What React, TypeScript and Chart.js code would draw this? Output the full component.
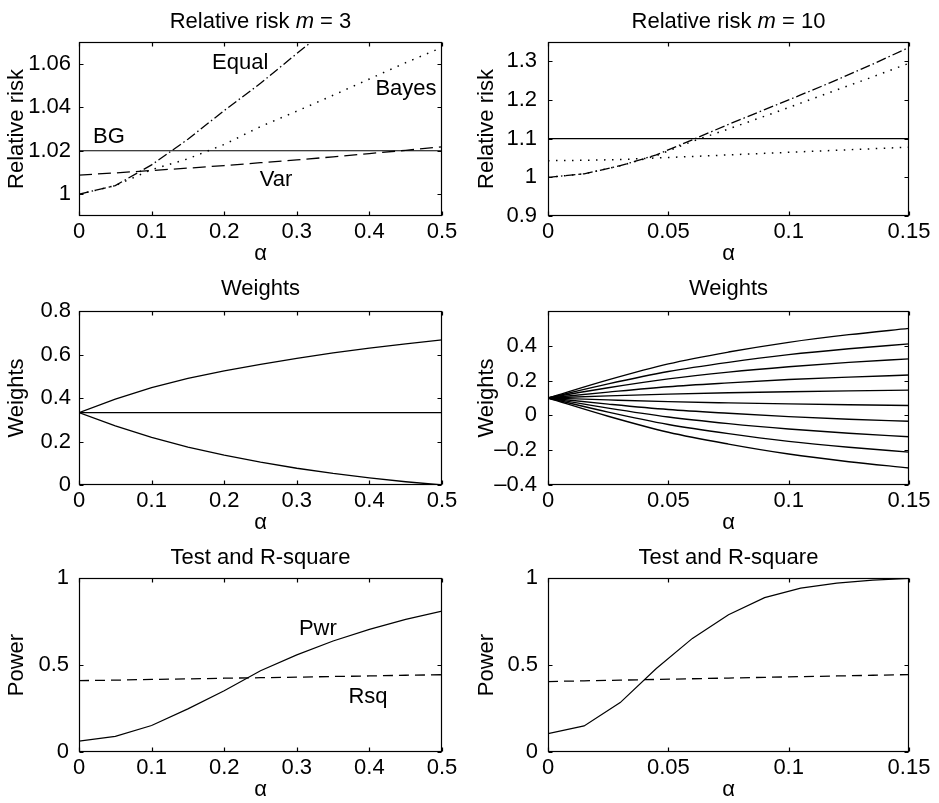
import React, { useEffect, useRef } from "react"
import { Chart, registerables } from "chart.js"

Chart.register(...registerables)

const FONT = "'Liberation Sans', Arial, Helvetica, sans-serif"
const FONT_SIZE = 22
const PANEL_H = 267

// alpha grids
const alphaWide = [0, 0.05, 0.1, 0.15, 0.2, 0.25, 0.3, 0.35, 0.4, 0.45, 0.5]
const alphaNarrow = [0, 0.015, 0.03, 0.045, 0.06, 0.075, 0.09, 0.105, 0.12, 0.135, 0.15]
const alphaFan = [0, 0.025, 0.05, 0.075, 0.1, 0.125, 0.15]

// tick values
const ticksWide = [0, 0.1, 0.2, 0.3, 0.4, 0.5]
const ticksNarrow = [0, 0.05, 0.1, 0.15]
const ticksRR3 = [1, 1.02, 1.04, 1.06]
const ticksRR10 = [0.9, 1, 1.1, 1.2, 1.3]
const ticksW3 = [0, 0.2, 0.4, 0.6, 0.8]
const ticksW10 = [-0.4, -0.2, 0, 0.2, 0.4]
const ticksPower = [0, 0.5, 1]

// relative risk, m = 3
const rr3Equal = [1.0, 1.004, 1.0135, 1.0253, 1.0385, 1.051, 1.0647, 1.078, 1.092, 1.106, 1.12]
const rr3Bayes = [1.0, 1.004, 1.0113, 1.0163, 1.0229, 1.0311, 1.0382, 1.0455, 1.053, 1.0605, 1.0675]
const rr3Var = [1.0088, 1.0098, 1.0109, 1.012, 1.0132, 1.0145, 1.0158, 1.0172, 1.0187, 1.0202, 1.0218]
const rr3BG = [1.02, 1.02, 1.02, 1.02, 1.02, 1.02, 1.02, 1.02, 1.02, 1.02, 1.02]

// relative risk, m = 10
const rr10Equal = [1.0, 1.009, 1.03, 1.058, 1.097, 1.137, 1.175, 1.213, 1.252, 1.293, 1.336]
const rr10Bayes = [1.0, 1.009, 1.03, 1.056, 1.093, 1.125, 1.158, 1.192, 1.226, 1.26, 1.295]
const rr10Var = [1.043, 1.044, 1.046, 1.05, 1.054, 1.058, 1.062, 1.066, 1.07, 1.074, 1.078]
const rr10BG = [1.1, 1.1, 1.1, 1.1, 1.1, 1.1, 1.1, 1.1, 1.1, 1.1, 1.1]

// weights, m = 3
const w3Up = [0.333, 0.395, 0.448, 0.49, 0.525, 0.555, 0.582, 0.607, 0.629, 0.649, 0.667]
const w3Mid = [0.333, 0.333, 0.333, 0.333, 0.333, 0.333, 0.333, 0.333, 0.333, 0.333, 0.333]
const w3Low = [0.333, 0.272, 0.219, 0.174, 0.137, 0.105, 0.077, 0.053, 0.033, 0.015, 0.0]

// weights, m = 10
const w10 = [
  [0.1, 0.204, 0.296, 0.364, 0.42, 0.464, 0.5],
  [0.1, 0.181, 0.252, 0.305, 0.349, 0.383, 0.411],
  [0.1, 0.159, 0.21, 0.249, 0.28, 0.305, 0.325],
  [0.1, 0.134, 0.165, 0.187, 0.206, 0.22, 0.232],
  [0.1, 0.112, 0.122, 0.13, 0.136, 0.141, 0.145],
  [0.1, 0.089, 0.079, 0.072, 0.066, 0.061, 0.057],
  [0.1, 0.065, 0.034, 0.012, -0.007, -0.022, -0.034],
  [0.1, 0.042, -0.009, -0.047, -0.078, -0.103, -0.123],
  [0.1, 0.019, -0.052, -0.105, -0.149, -0.183, -0.211],
  [0.1, -0.005, -0.097, -0.165, -0.222, -0.266, -0.302],
]

// test power and R-square
const pwr3 = [0.063, 0.09, 0.152, 0.248, 0.352, 0.467, 0.558, 0.638, 0.705, 0.762, 0.81]
const rsq3 = [0.41, 0.413, 0.417, 0.42, 0.424, 0.427, 0.43, 0.434, 0.437, 0.441, 0.444]
const pwr10 = [0.106, 0.15, 0.284, 0.48, 0.653, 0.789, 0.887, 0.942, 0.971, 0.988, 0.997]
const rsq10 = [0.405, 0.409, 0.413, 0.417, 0.421, 0.425, 0.429, 0.433, 0.437, 0.441, 0.445]

// curve labels
const rr3Notes = [
  { text: "Equal", x: 0.222, y: 1.0605 },
  { text: "Bayes", x: 0.4504, y: 1.0482 },
  { text: "BG", x: 0.0413, y: 1.0265 },
  { text: "Var", x: 0.2713, y: 1.0068 },
]
const p3Notes = [
  { text: "Pwr", x: 0.329, y: 0.708 },
  { text: "Rsq", x: 0.398, y: 0.318 },
]

const DASH_DOT = [10, 3, 1.5, 3]
const DASHED = [13, 6]
const DOTTED = [1.5, 6.5]
const SHORT_DASH = [10, 6]

type Line = { data: number[]; dash?: number[]; width?: number }
type Note = { text: string; x: number; y: number }
type TitlePart = { text: string; italic?: boolean }
type PanelSpec = {
  left: number
  top: number
  width: number
  title: TitlePart[]
  titleGap: number
  yLabel: string
  xs: number[]
  lines: Line[]
  xMax: number
  yMin: number
  yMax: number
  xTicks: number[]
  yTicks: number[]
  yAxisWidth: number
  yTickPad: number
  rightPad: number
  notes?: Note[]
  smooth?: boolean
}

const fmt = (v: number) => String(v).replace("-", "\u2013")

function framePlugin(spec: PanelSpec) {
  return {
    id: "matlabFrame",
    afterDraw(chart: Chart) {
      const { ctx, chartArea: a } = chart
      const sx = chart.scales.x
      const sy = chart.scales.y
      const L = Math.round(a.left) + 0.5
      const R = Math.round(a.right) - 0.5
      const T = Math.round(a.top) + 0.5
      const B = Math.round(a.bottom) - 0.5
      ctx.save()
      ctx.strokeStyle = "#000"
      ctx.lineWidth = 1.2
      ctx.strokeRect(L, T, R - L, B - T)
      const tl = 4
      ctx.beginPath()
      for (const v of spec.xTicks) {
        const px = Math.round(sx.getPixelForValue(v)) + 0.5
        ctx.moveTo(px, B)
        ctx.lineTo(px, B - tl)
        ctx.moveTo(px, T)
        ctx.lineTo(px, T + tl)
      }
      for (const v of spec.yTicks) {
        const py = Math.round(sy.getPixelForValue(v)) + 0.5
        ctx.moveTo(L, py)
        ctx.lineTo(L + tl, py)
        ctx.moveTo(R, py)
        ctx.lineTo(R - tl, py)
      }
      ctx.stroke()

      // title with mixed styles
      ctx.fillStyle = "#000"
      ctx.textBaseline = "alphabetic"
      ctx.textAlign = "left"
      const fontOf = (p: TitlePart) => `${p.italic ? "italic " : ""}${FONT_SIZE}px ${FONT}`
      let total = 0
      for (const p of spec.title) {
        ctx.font = fontOf(p)
        total += ctx.measureText(p.text).width
      }
      let x = (a.left + a.right) / 2 - total / 2
      const y = a.top - spec.titleGap
      for (const p of spec.title) {
        ctx.font = fontOf(p)
        ctx.fillText(p.text, x, y)
        x += ctx.measureText(p.text).width
      }

      // curve labels
      ctx.font = `${FONT_SIZE}px ${FONT}`
      ctx.textAlign = "center"
      ctx.textBaseline = "middle"
      for (const n of spec.notes ?? []) {
        ctx.fillText(n.text, sx.getPixelForValue(n.x), sy.getPixelForValue(n.y))
      }
      ctx.restore()
    },
  }
}

function Panel({ spec }: { spec: PanelSpec }) {
  const ref = useRef<HTMLCanvasElement>(null)

  useEffect(() => {
    if (!ref.current) return
    const font = { family: FONT, size: FONT_SIZE }
    const chart = new Chart(ref.current, {
      type: "line",
      data: {
        datasets: spec.lines.map((l) => ({
          data: spec.xs.map((x, i) => ({ x, y: l.data[i] })),
          borderColor: "#000",
          borderWidth: l.width ?? 1.2,
          borderDash: l.dash ?? [],
          pointRadius: 0,
          pointHoverRadius: 0,
          fill: false,
          tension: 0,
          cubicInterpolationMode: spec.smooth ? "monotone" : "default",
        })),
      },
      options: {
        responsive: false,
        animation: false,
        events: [],
        layout: { padding: { top: 42, right: spec.rightPad, bottom: 0, left: 0 } },
        plugins: { legend: { display: false }, tooltip: { enabled: false }, title: { display: false } },
        scales: {
          x: {
            type: "linear",
            min: 0,
            max: spec.xMax,
            afterBuildTicks: (s: any) => {
              s.ticks = spec.xTicks.map((v) => ({ value: v }))
            },
            afterFit: (s: any) => {
              s.height = PANEL_H - 42 - 174
            },
            grid: { display: false, drawTicks: false },
            border: { display: false },
            ticks: {
              padding: 3,
              font,
              color: "#000",
              maxRotation: 0,
              autoSkip: false,
              callback: (v: any) => fmt(Number(v)),
            },
            title: { display: true, text: "α", font, color: "#000", padding: { top: 0, bottom: 0 } },
          },
          y: {
            type: "linear",
            min: spec.yMin,
            max: spec.yMax,
            afterBuildTicks: (s: any) => {
              s.ticks = spec.yTicks.map((v) => ({ value: v }))
            },
            afterFit: (s: any) => {
              s.width = spec.yAxisWidth
            },
            grid: { display: false, drawTicks: false },
            border: { display: false },
            ticks: {
              padding: spec.yTickPad,
              font,
              color: "#000",
              autoSkip: false,
              callback: (v: any) => fmt(Number(v)),
            },
            title: { display: true, text: spec.yLabel, font, color: "#000", padding: { top: 4, bottom: 0 } },
          },
        },
      },
      plugins: [framePlugin(spec)],
    } as any)

    return () => {
      chart.destroy()
    }
  }, [spec])

  return (
    <canvas
      ref={ref}
      width={spec.width}
      height={PANEL_H}
      style={{ position: "absolute", left: spec.left, top: spec.top, width: spec.width, height: PANEL_H }}
    />
  )
}

const LEFT = { left: 0, width: 470, yAxisWidth: 79, rightPad: 28 }
const RIGHT = { left: 470, width: 469, yAxisWidth: 78, rightPad: 30 }

const panels: PanelSpec[] = [
  {
    ...LEFT,
    top: 0,
    title: [{ text: "Relative risk " }, { text: "m", italic: true }, { text: " = 3" }],
    titleGap: 14,
    yLabel: "Relative risk",
    xs: alphaWide,
    lines: [
      { data: rr3BG },
      { data: rr3Var, dash: DASHED, width: 1.3 },
      { data: rr3Bayes, dash: DOTTED, width: 1.5 },
      { data: rr3Equal, dash: DASH_DOT, width: 1.3 },
    ],
    xMax: 0.5,
    yMin: 0.99,
    yMax: 1.07,
    xTicks: ticksWide,
    yTicks: ticksRR3,
    yTickPad: 8,
    notes: rr3Notes,
  },
  {
    ...RIGHT,
    top: 0,
    title: [{ text: "Relative risk " }, { text: "m", italic: true }, { text: " = 10" }],
    titleGap: 14,
    yLabel: "Relative risk",
    xs: alphaNarrow,
    lines: [
      { data: rr10BG },
      { data: rr10Var, dash: DOTTED, width: 1.5 },
      { data: rr10Bayes, dash: DOTTED, width: 1.5 },
      { data: rr10Equal, dash: DASH_DOT, width: 1.3 },
    ],
    xMax: 0.15,
    yMin: 0.9,
    yMax: 1.35,
    xTicks: ticksNarrow,
    yTicks: ticksRR10,
    yTickPad: 11,
  },
  {
    ...LEFT,
    top: 269,
    title: [{ text: "Weights" }],
    titleGap: 16,
    yLabel: "Weights",
    xs: alphaWide,
    lines: [{ data: w3Up, width: 1.3 }, { data: w3Mid, width: 1.3 }, { data: w3Low, width: 1.3 }],
    xMax: 0.5,
    yMin: 0,
    yMax: 0.8,
    xTicks: ticksWide,
    yTicks: ticksW3,
    yTickPad: 8,
  },
  {
    ...RIGHT,
    top: 269,
    title: [{ text: "Weights" }],
    titleGap: 16,
    yLabel: "Weights",
    xs: alphaFan,
    lines: w10.map((d) => ({ data: d, width: 1.4 })),
    xMax: 0.15,
    yMin: -0.4,
    yMax: 0.6,
    xTicks: ticksNarrow,
    yTicks: ticksW10,
    yTickPad: 11,
    smooth: true,
  },
  {
    ...LEFT,
    top: 536,
    title: [{ text: "Test and R-square" }],
    titleGap: 14,
    yLabel: "Power",
    xs: alphaWide,
    lines: [{ data: pwr3 }, { data: rsq3, dash: SHORT_DASH, width: 1.3 }],
    xMax: 0.5,
    yMin: 0,
    yMax: 1,
    xTicks: ticksWide,
    yTicks: ticksPower,
    yTickPad: 10,
    notes: p3Notes,
  },
  {
    ...RIGHT,
    top: 536,
    title: [{ text: "Test and R-square" }],
    titleGap: 14,
    yLabel: "Power",
    xs: alphaNarrow,
    lines: [{ data: pwr10 }, { data: rsq10, dash: SHORT_DASH, width: 1.3 }],
    xMax: 0.15,
    yMin: 0,
    yMax: 1,
    xTicks: ticksNarrow,
    yTicks: ticksPower,
    yTickPad: 10,
  },
]

export default function App() {
  return (
    <div style={{ position: "absolute", left: 0, top: 0, width: 939, height: 803, background: "#fff" }}>
      {panels.map((p, i) => (
        <Panel key={i} spec={p} />
      ))}
    </div>
  )
}
